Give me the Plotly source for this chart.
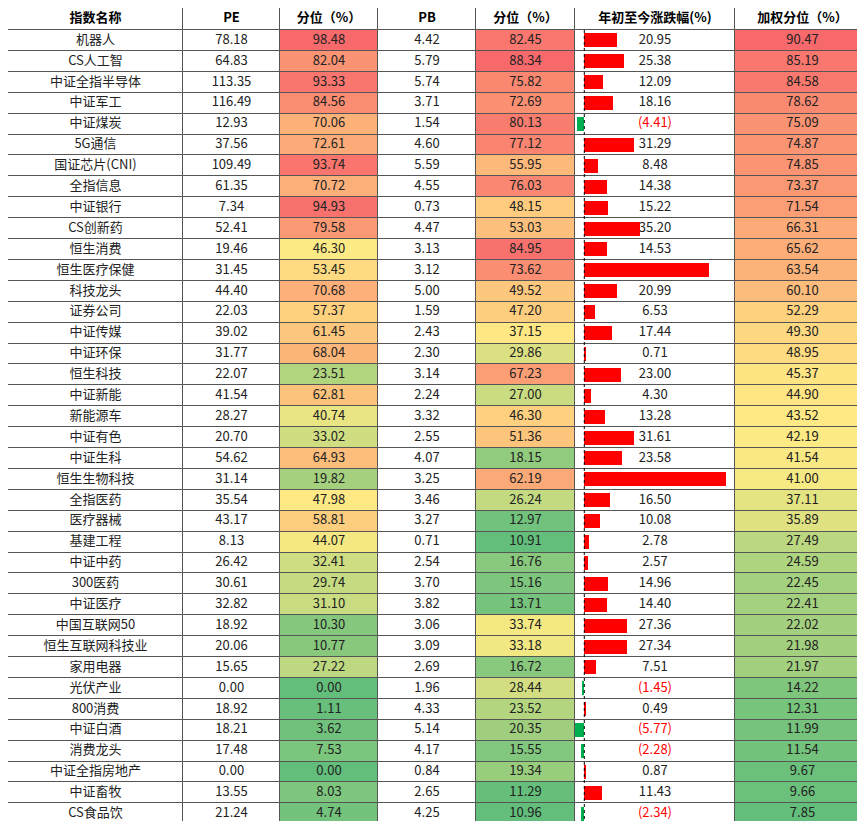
import plotly.graph_objects as go
import numpy as np

names = ["机器人","CS人工智","中证全指半导体","中证军工","中证煤炭","5G通信","国证芯片(CNI)","全指信息","中证银行","CS创新药",
"恒生消费","恒生医疗保健","科技龙头","证券公司","中证传媒","中证环保","恒生科技","中证新能","新能源车","中证有色",
"中证生科","恒生生物科技","全指医药","医疗器械","基建工程","中证中药","300医药","中证医疗","中国互联网50","恒生互联网科技业",
"家用电器","光伏产业","800消费","中证白酒","消费龙头","中证全指房地产","中证畜牧","CS食品饮"]
pe = [78.18,64.83,113.35,116.49,12.93,37.56,109.49,61.35,7.34,52.41,19.46,31.45,44.40,22.03,39.02,31.77,22.07,41.54,28.27,20.70,
54.62,31.14,35.54,43.17,8.13,26.42,30.61,32.82,18.92,20.06,15.65,0.00,18.92,18.21,17.48,0.00,13.55,21.24]
pe_pct = [98.48,82.04,93.33,84.56,70.06,72.61,93.74,70.72,94.93,79.58,46.30,53.45,70.68,57.37,61.45,68.04,23.51,62.81,40.74,33.02,
64.93,19.82,47.98,58.81,44.07,32.41,29.74,31.10,10.30,10.77,27.22,0.00,1.11,3.62,7.53,0.00,8.03,4.74]
pb = [4.42,5.79,5.74,3.71,1.54,4.60,5.59,4.55,0.73,4.47,3.13,3.12,5.00,1.59,2.43,2.30,3.14,2.24,3.32,2.55,
4.07,3.25,3.46,3.27,0.71,2.54,3.70,3.82,3.06,3.09,2.69,1.96,4.33,5.14,4.17,0.84,2.65,4.25]
pb_pct = [82.45,88.34,75.82,72.69,80.13,77.12,55.95,76.03,48.15,53.03,84.95,73.62,49.52,47.20,37.15,29.86,67.23,27.00,46.30,51.36,
18.15,62.19,26.24,12.97,10.91,16.76,15.16,13.71,33.74,33.18,16.72,28.44,23.52,20.35,15.55,19.34,11.29,10.96]
ytd = [20.95,25.38,12.09,18.16,-4.41,31.29,8.48,14.38,15.22,35.20,14.53,79.23,20.99,6.53,17.44,0.71,23.00,4.30,13.28,31.61,
23.58,90.04,16.50,10.08,2.78,2.57,14.96,14.40,27.36,27.34,7.51,-1.45,0.49,-5.77,-2.28,0.87,11.43,-2.34]
wpct = [90.47,85.19,84.58,78.62,75.09,74.87,74.85,73.37,71.54,66.31,65.62,63.54,60.10,52.29,49.30,48.95,45.37,44.90,43.52,42.19,
41.54,41.00,37.11,35.89,27.49,24.59,22.45,22.41,22.02,21.98,21.97,14.22,12.31,11.99,11.54,9.67,9.66,7.85]
headers = ["指数名称","PE","分位（%）","PB","分位（%）","年初至今涨跌幅(%)","加权分位（%）"]

W, H = 865, 821
HDR, RH = 22, 20.9
edges = [0,175,272,370,468,567,727,862]
n = len(names)
yc = [HDR + RH*i + RH/2 for i in range(n)]

def lerp(c1, c2, t):
    return tuple(int(round(a+(b-a)*t)) for a, b in zip(c1, c2))
G, Y, R = (99,190,123), (255,235,132), (248,105,107)
def scale(vals):
    v = np.array(vals); lo, mid, hi = v.min(), np.percentile(v, 50), v.max()
    out = []
    for x in v:
        c = lerp(G, Y, (x-lo)/(mid-lo)) if x <= mid else lerp(Y, R, (x-mid)/(hi-mid))
        out.append("rgb(%d,%d,%d)" % c)
    return out

cols = [None, None, scale(pe_pct), None, scale(pb_pct), None, scale(wpct)]
fig = go.Figure()
font = "Noto Sans CJK SC"
fig.add_trace(go.Bar(orientation="h", y=[HDR/2]*7, base=edges[:-1],
    x=[edges[i+1]-edges[i] for i in range(7)], width=HDR, marker=dict(color="white", line=dict(color="#555", width=1)),
    hoverinfo="skip", showlegend=False))
for j in range(7):
    colors = cols[j] if cols[j] else ["white"]*n
    fig.add_trace(go.Bar(orientation="h", y=yc, base=[edges[j]]*n, x=[edges[j+1]-edges[j]]*n, width=RH,
        marker=dict(color=colors, line=dict(color="#555", width=1)), hoverinfo="skip", showlegend=False))

# data bars on their own axis spanning the ytd column
fig.add_trace(go.Bar(orientation="h", y=yc, x=ytd, xaxis="x2", yaxis="y", width=14,
    marker=dict(color=["#FF0000" if v >= 0 else "#00B050" for v in ytd], line=dict(width=0)),
    hoverinfo="skip", showlegend=False))

centers = [(edges[j]+edges[j+1])/2 for j in range(7)]
fig.add_trace(go.Scatter(x=centers, y=[HDR/2]*7, mode="text", text=["<b>%s</b>" % h for h in headers],
    textfont=dict(family=font, size=13, color="black"), hoverinfo="skip", showlegend=False, cliponaxis=False))
data_cols = [names, pe, pe_pct, pb, pb_pct, ytd, wpct]
for j, col in enumerate(data_cols):
    if j == 0:
        txt = col; clr = "#222"
    elif j == 5:
        txt = ["%.2f" % v if v >= 0 else "(%.2f)" % -v for v in col]
        clr = ["#222" if v >= 0 else "#FF0000" for v in col]
    else:
        txt = ["%.2f" % v for v in col]; clr = "#222"
    xc = centers[j] if j != 5 else 647
    fig.add_trace(go.Scatter(x=[xc]*n, y=yc, mode="text", text=txt, xaxis="x3", yaxis="y",
        textfont=dict(family=font, size=13, color=clr), hoverinfo="skip", showlegend=False, cliponaxis=False))

fig.add_shape(type="line", xref="x2", yref="y", x0=0, x1=0, y0=HDR, y1=HDR+RH*n,
    line=dict(color="black", width=1, dash="dot"))

fig.update_layout(width=W, height=H, margin=dict(l=0, r=0, t=0, b=0), paper_bgcolor="white",
    plot_bgcolor="rgba(0,0,0,0)", barmode="overlay", bargap=0,
    xaxis=dict(range=[0, W], visible=False, fixedrange=True),
    xaxis2=dict(domain=[567/W, 727/W], range=[-5.9, 95.5], visible=False, anchor="y"),
    xaxis3=dict(range=[0, W], visible=False, anchor="y", overlaying="x"),
    yaxis=dict(range=[H, 0], visible=False))
fig.write_html("out.html")
